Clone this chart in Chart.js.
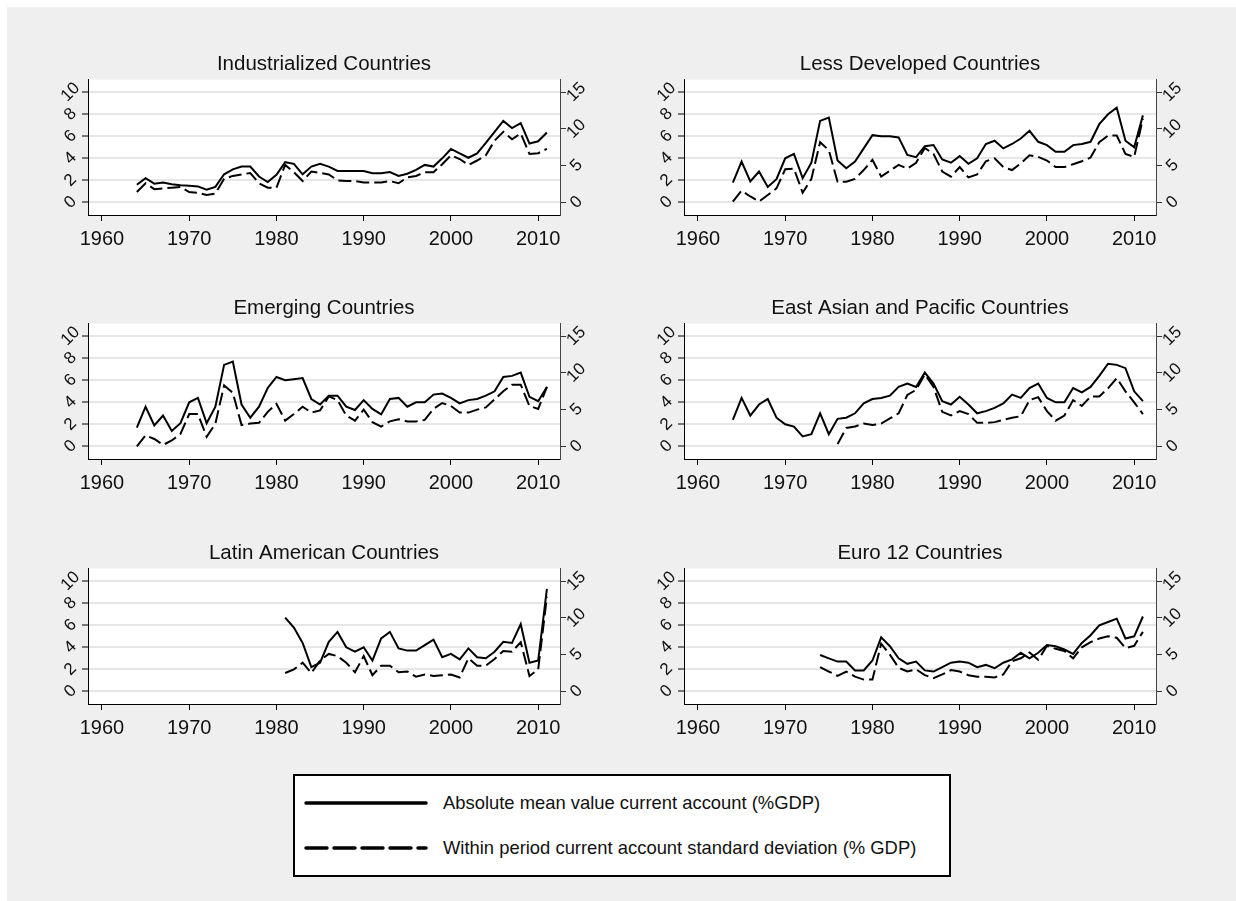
<!DOCTYPE html>
<html>
<head>
<meta charset="utf-8">
<script src="https://cdn.jsdelivr.net/npm/chart.js@4/dist/chart.umd.min.js"></script>
<style>
  body { margin: 0; background: #fff; width: 1236px; height: 901px; overflow: hidden; }
  #fig { position: absolute; left: 7px; top: 7px; width: 1229px; height: 894px; background: #efefef; }
  canvas { position: absolute; }
  #legend { position: absolute; left: 293px; top: 774px; width: 658px; height: 103px; box-sizing: border-box;
            border: 2px solid #000; background: #fff; }
  .lg-line { position: absolute; left: 304px; width: 124px; height: 12px; }
  .lg-text { position: absolute; left: 443px; height: 22px; line-height: 22px; white-space: nowrap;
             font-family: "Liberation Sans", Arial, sans-serif; font-size: 18.4px; color: #111; }
</style>
</head>
<body>
<div id="fig"></div>
<canvas id="c1" width="580" height="220" style="left:28px;top:41px"></canvas>
<canvas id="c2" width="580" height="220" style="left:624px;top:41px"></canvas>
<canvas id="c3" width="580" height="220" style="left:28px;top:285px"></canvas>
<canvas id="c4" width="580" height="220" style="left:624px;top:285px"></canvas>
<canvas id="c5" width="580" height="220" style="left:28px;top:530px"></canvas>
<canvas id="c6" width="580" height="220" style="left:624px;top:530px"></canvas>

<div id="legend"></div>
<svg class="lg-line" style="top:797px"><line x1="2" y1="6" x2="122" y2="6" stroke="#000" stroke-width="3.5" stroke-linecap="round"/></svg>
<div class="lg-text" style="top:792px">Absolute mean value current account (%GDP)</div>
<svg class="lg-line" style="top:842px"><line x1="2" y1="6" x2="122" y2="6" stroke="#000" stroke-width="3.5" stroke-linecap="round" stroke-dasharray="21 7"/></svg>
<div class="lg-text" style="top:837px">Within period current account standard deviation (% GDP)</div>

<script>
const FONT = '"Liberation Sans", Arial, sans-serif';

const years = [1964, 1965, 1966, 1967, 1968, 1969, 1970, 1971, 1972, 1973,
  1974, 1975, 1976, 1977, 1978, 1979, 1980, 1981, 1982, 1983,
  1984, 1985, 1986, 1987, 1988, 1989, 1990, 1991, 1992, 1993,
  1994, 1995, 1996, 1997, 1998, 1999, 2000, 2001, 2002, 2003,
  2004, 2005, 2006, 2007, 2008, 2009, 2010, 2011];

const xTicks = [1960, 1970, 1980, 1990, 2000, 2010];
const leftTicks = [0, 2, 4, 6, 8, 10];
const rightTicks = [0, 5, 10, 15];

const meanLabel = 'Absolute mean value current account (%GDP)';
const sdLabel = 'Within period current account standard deviation (% GDP)';

// left axis: mean (%GDP), right axis: std dev (%GDP)
const indMean = [1.6, 2.2, 1.7, 1.8, 1.65, 1.55, 1.5, 1.45, 1.15, 1.4,
  2.55, 3.0, 3.25, 3.25, 2.35, 1.85, 2.5, 3.65, 3.5, 2.55,
  3.25, 3.5, 3.25, 2.85, 2.85, 2.85, 2.85, 2.65, 2.65, 2.75,
  2.4, 2.6, 2.95, 3.4, 3.25, 4.0, 4.85, 4.45, 4.05, 4.45,
  5.4, 6.4, 7.4, 6.75, 7.2, 5.35, 5.55, 6.35];
const indSd = [1.4, 2.6, 1.8, 1.9, 2.0, 2.1, 1.4, 1.3, 1.0, 1.2,
  3.2, 3.6, 3.8, 4.0, 2.6, 2.0, 2.0, 5.1, 4.1, 2.9,
  4.2, 4.0, 3.8, 3.0, 2.9, 2.9, 2.7, 2.7, 2.7, 2.9,
  2.6, 3.4, 3.6, 4.1, 4.1, 5.2, 6.4, 5.9, 5.1, 5.7,
  6.4, 8.4, 9.6, 8.6, 9.4, 6.6, 6.7, 7.3];

const ldcMean = [1.8, 3.7, 1.9, 2.8, 1.4, 2.1, 4.0, 4.4, 2.2, 3.6,
  7.4, 7.7, 3.8, 3.1, 3.7, 4.9, 6.1, 6.0, 6.0, 5.9,
  4.3, 4.1, 5.1, 5.2, 3.9, 3.6, 4.2, 3.5, 4.0, 5.3,
  5.6, 4.9, 5.3, 5.8, 6.5, 5.5, 5.2, 4.6, 4.6, 5.2,
  5.3, 5.5, 7.1, 8.0, 8.6, 5.6, 5.0, 7.9];
const ldcSd = [0.1, 1.6, 0.8, 0.1, 1.0, 1.9, 4.5, 4.6, 1.3, 3.2,
  8.2, 7.1, 2.8, 2.8, 3.2, 4.4, 5.8, 3.5, 4.3, 5.1,
  4.6, 5.4, 7.4, 6.6, 4.2, 3.5, 4.8, 3.4, 3.8, 5.6,
  6.0, 4.8, 4.4, 5.3, 6.4, 6.2, 5.7, 4.8, 4.8, 5.2,
  5.6, 6.1, 8.2, 9.1, 9.1, 6.6, 6.2, 11.4];

const emMean = [1.7, 3.6, 1.9, 2.8, 1.4, 2.1, 4.0, 4.4, 2.1, 3.6,
  7.4, 7.7, 3.8, 2.6, 3.6, 5.3, 6.3, 6.0, 6.1, 6.2,
  4.3, 3.8, 4.6, 4.6, 3.6, 3.3, 4.2, 3.4, 2.9, 4.3,
  4.4, 3.6, 4.0, 4.0, 4.7, 4.8, 4.4, 3.9, 4.2, 4.3,
  4.6, 5.0, 6.3, 6.4, 6.7, 4.5, 4.1, 5.4];
const emSd = [0.0, 1.5, 1.0, 0.2, 0.8, 1.7, 4.4, 4.4, 1.3, 3.1,
  8.3, 7.3, 2.9, 3.1, 3.2, 4.7, 5.8, 3.5, 4.4, 5.4,
  4.6, 4.9, 6.8, 6.3, 4.2, 3.5, 5.0, 3.3, 2.7, 3.4,
  3.7, 3.4, 3.4, 3.6, 5.1, 5.9, 5.5, 4.6, 4.6, 5.0,
  5.3, 6.4, 7.5, 8.4, 8.4, 5.5, 5.1, 8.1];

const eapMean = [2.4, 4.4, 2.8, 3.8, 4.3, 2.6, 2.0, 1.8, 0.9, 1.1,
  3.0, 1.1, 2.5, 2.6, 3.0, 3.9, 4.3, 4.4, 4.6, 5.4,
  5.7, 5.4, 6.7, 5.7, 4.1, 3.8, 4.5, 3.8, 3.0, 3.2,
  3.5, 3.9, 4.7, 4.4, 5.3, 5.7, 4.4, 4.0, 4.0, 5.3,
  4.9, 5.4, 6.4, 7.5, 7.4, 7.1, 5.0, 4.1];
const eapSd = [null, null, null, null, null, null, null, null, null, null,
  null, null, 0.3, 2.5, 2.7, 3.1, 2.9, 3.1, 3.8, 4.5,
  7.0, 7.7, 9.8, 8.1, 4.7, 4.2, 4.8, 4.4, 3.2, 3.2,
  3.3, 3.6, 3.9, 4.1, 6.3, 6.7, 4.8, 3.5, 4.2, 6.3,
  5.5, 6.8, 6.8, 7.9, 9.3, 7.5, 6.0, 4.4];

const latMean = [null, null, null, null, null, null, null, null, null, null,
  null, null, null, null, null, null, null, 6.7, 5.8, 4.4,
  2.2, 2.6, 4.5, 5.4, 4.0, 3.6, 4.0, 2.8, 4.8, 5.4,
  3.9, 3.7, 3.7, 4.2, 4.7, 3.1, 3.4, 2.9, 3.9, 3.1,
  3.0, 3.6, 4.5, 4.4, 6.1, 2.6, 2.8, 9.3];
const latSd = [null, null, null, null, null, null, null, null, null, null,
  null, null, null, null, null, null, null, 2.5, 3.0, 3.9,
  2.5, 4.2, 5.1, 4.8, 3.9, 2.6, 4.8, 2.2, 3.5, 3.5,
  2.6, 2.7, 2.0, 2.3, 2.1, 2.2, 2.3, 1.9, 4.5, 3.5,
  3.5, 4.4, 5.5, 5.4, 6.7, 2.1, 3.0, 12.9];

const euroMean = [null, null, null, null, null, null, null, null, null, null,
  3.3, 3.0, 2.7, 2.7, 1.9, 1.9, 2.8, 4.9, 4.1, 3.0,
  2.5, 2.7, 1.9, 1.8, 2.2, 2.6, 2.7, 2.6, 2.2, 2.4,
  2.1, 2.6, 2.9, 3.5, 3.0, 3.5, 4.2, 4.1, 3.8, 3.4,
  4.4, 5.1, 6.0, 6.3, 6.6, 4.8, 5.0, 6.8];
const euroSd = [null, null, null, null, null, null, null, null, null, null,
  3.3, 2.7, 2.1, 2.7, 2.0, 1.6, 1.6, 6.5, 5.0, 3.2,
  2.7, 3.0, 2.2, 1.8, 2.3, 2.9, 2.7, 2.2, 2.0, 2.0,
  1.9, 2.3, 4.1, 4.5, 5.3, 4.3, 6.2, 5.8, 5.5, 4.5,
  6.0, 6.7, 7.2, 7.5, 7.3, 5.9, 6.2, 8.1];

// white plot region
const plotBg = {
  id: 'plotBg',
  beforeDraw(chart) {
    const a = chart.chartArea;
    const ctx = chart.ctx;
    ctx.save();
    ctx.fillStyle = '#fff';
    ctx.fillRect(a.left, a.top, a.right - a.left, a.bottom - a.top);
    ctx.restore();
  }
};

function points(vals) {
  return years.map((y, i) => ({ x: y, y: vals[i] })).filter(p => p.y !== null);
}

function setTicks(list) {
  return function (scale) {
    scale.ticks = list.map(v => ({ value: v }));
  };
}

function makePanel(id, title, mean, sd) {
  new Chart(document.getElementById(id), {
    type: 'line',
    data: {
      datasets: [{
        label: meanLabel,
        data: points(mean),
        yAxisID: 'y',
        borderColor: '#000',
        borderWidth: 2,
        pointRadius: 0,
        tension: 0
      }, {
        label: sdLabel,
        data: points(sd),
        yAxisID: 'y2',
        borderColor: '#000',
        borderWidth: 2,
        borderDash: [13, 5],
        pointRadius: 0,
        tension: 0
      }]
    },
    options: {
      responsive: false,
      animation: false,
      events: [],
      layout: { padding: 0 },
      plugins: {
        legend: { display: false },
        tooltip: { enabled: false },
        title: {
          display: true,
          text: title,
          fullSize: false,
          color: '#111',
          font: { family: FONT, size: 20.5, weight: 'normal' },
          padding: { top: 11, bottom: 3 }
        }
      },
      scales: {
        x: {
          type: 'linear',
          min: 1958.4,
          max: 2012.5,
          afterBuildTicks: setTicks(xTicks),
          afterFit: s => { s.height = 46; },
          grid: { drawOnChartArea: false, tickLength: 6, tickColor: '#000', tickWidth: 1 },
          border: { color: '#000', width: 1 },
          ticks: {
            color: '#111',
            font: { family: FONT, size: 20 },
            padding: 6,
            maxRotation: 0,
            autoSkip: false,
            callback: v => String(v)
          }
        },
        y: {
          position: 'left',
          min: -1.15,
          max: 11.15,
          afterBuildTicks: setTicks(leftTicks),
          afterFit: s => { s.width = 60; },
          grid: { color: '#e6e6e6', lineWidth: 2, tickLength: 6, tickColor: '#000', tickWidth: 1 },
          border: { color: '#000', width: 1 },
          ticks: {
            color: '#111',
            font: { family: FONT, size: 17 },
            minRotation: 45,
            maxRotation: 45,
            autoSkip: false,
            crossAlign: 'center',
            padding: 2,
            callback: v => String(v)
          }
        },
        y2: {
          position: 'right',
          min: -1.725,
          max: 16.725,
          afterBuildTicks: setTicks(rightTicks),
          afterFit: s => { s.width = 48; },
          grid: { drawOnChartArea: false, tickLength: 6, tickColor: '#333', tickWidth: 1 },
          border: { color: '#444', width: 1 },
          ticks: {
            color: '#111',
            font: { family: FONT, size: 17 },
            minRotation: 45,
            maxRotation: 45,
            autoSkip: false,
            crossAlign: 'center',
            padding: 1,
            callback: v => String(v)
          }
        }
      }
    },
    plugins: [plotBg]
  });
}

makePanel('c1', 'Industrialized Countries', indMean, indSd);
makePanel('c2', 'Less Developed Countries', ldcMean, ldcSd);
makePanel('c3', 'Emerging Countries', emMean, emSd);
makePanel('c4', 'East Asian and Pacific Countries', eapMean, eapSd);
makePanel('c5', 'Latin American Countries', latMean, latSd);
makePanel('c6', 'Euro 12 Countries', euroMean, euroSd);
</script>
</body>
</html>
